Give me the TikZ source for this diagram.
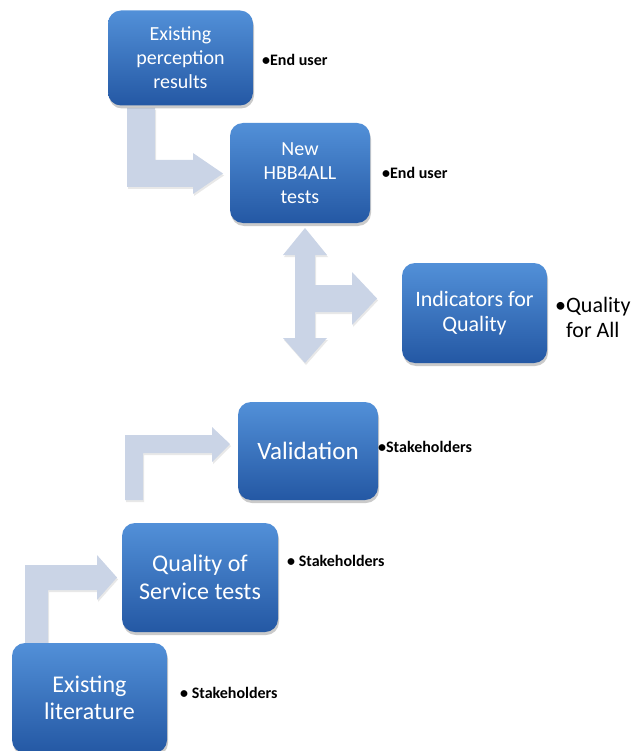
\documentclass[tikz,border=0pt]{standalone}
\usepackage{fontspec}
\setmainfont{Carlito}
\usetikzlibrary{shadows,shadings}
\definecolor{arrowfill}{RGB}{202,212,230}
\definecolor{boxtop}{RGB}{82,144,216}
\definecolor{boxbot}{RGB}{36,88,164}
\tikzset{
  stepbox/.style={rounded corners=13pt, top color=boxtop, bottom color=boxbot,
    draw=none, text=white, align=center, inner sep=2pt,
    drop shadow={shadow xshift=1pt, shadow yshift=-3pt, opacity=0.35, fill=black!60}},
  blockarrow/.style={fill=arrowfill, draw=none,
    drop shadow={shadow xshift=1pt, shadow yshift=-2pt, opacity=0.15, fill=black!60}},
  lbl/.style={anchor=west, inner sep=0pt, text=black, align=left}
}
\begin{document}
\begin{tikzpicture}[x=1pt,y=-1pt]
\useasboundingbox (0,0) rectangle (634,751);
% block arrows
\path[blockarrow] (127,108) -- (155,108) -- (155,160) -- (193,160) -- (193,153) -- (223,173.5) -- (193,194) -- (193,187) -- (127,187) -- cycle;
\path[blockarrow] (305,228) -- (327,255) -- (315,255) -- (315,285) -- (352,285) -- (352,272) -- (377,298.5) -- (352,325) -- (352,312) -- (315,312) -- (315,338) -- (327,338) -- (305,363) -- (283,338) -- (295,338) -- (295,255) -- (283,255) -- cycle;
\path[blockarrow] (125,500) -- (125,435) -- (212,435) -- (212,427) -- (230,444) -- (212,462) -- (212,453) -- (143,453) -- (143,500) -- cycle;
\path[blockarrow] (25,655) -- (25,565) -- (97,565) -- (97,555) -- (117,577.5) -- (97,600) -- (97,590) -- (48,590) -- (48,655) -- cycle;
% boxes
\node[stepbox, minimum width=145pt, minimum height=95pt, font=\fontsize{20}{24}\selectfont] (epr) at (180.5,58) {Existing\\perception\\results};
\node[stepbox, minimum width=140pt, minimum height=100pt, font=\fontsize{20}{24}\selectfont] (hbb) at (300,173) {New\\HBB4ALL\\tests};
\node[stepbox, minimum width=145pt, minimum height=100pt, font=\fontsize{22}{25}\selectfont] (ind) at (474.5,313) {Indicators for\\Quality};
\node[stepbox, minimum width=140pt, minimum height=98pt, font=\fontsize{25}{28}\selectfont] (val) at (308,451) {Validation};
\node[stepbox, minimum width=156pt, minimum height=109pt, font=\fontsize{24}{28}\selectfont] (qos) at (200,577.5) {Quality of\\Service tests};
\node[stepbox, minimum width=155pt, minimum height=110pt, font=\fontsize{24}{27}\selectfont] (lit) at (89.5,698) {Existing\\literature};
% labels
\node[lbl, font=\fontsize{16}{18}\selectfont\bfseries] (l1) at (262,60) {•End user};
\node[lbl, font=\fontsize{16}{18}\selectfont\bfseries] (l2) at (382,173) {•End user};
\node[lbl, font=\fontsize{22}{25}\selectfont] (l3) at (555,317) {•Quality\\\phantom{•}for All};
\node[lbl, font=\fontsize{16}{18}\selectfont\bfseries] (l4) at (378,447) {•Stakeholders};
\node[lbl, font=\fontsize{16}{18}\selectfont\bfseries] (l5) at (287,561) {• Stakeholders};
\node[lbl, font=\fontsize{16}{18}\selectfont\bfseries] (l6) at (180,693) {• Stakeholders};
\end{tikzpicture}
\end{document}
